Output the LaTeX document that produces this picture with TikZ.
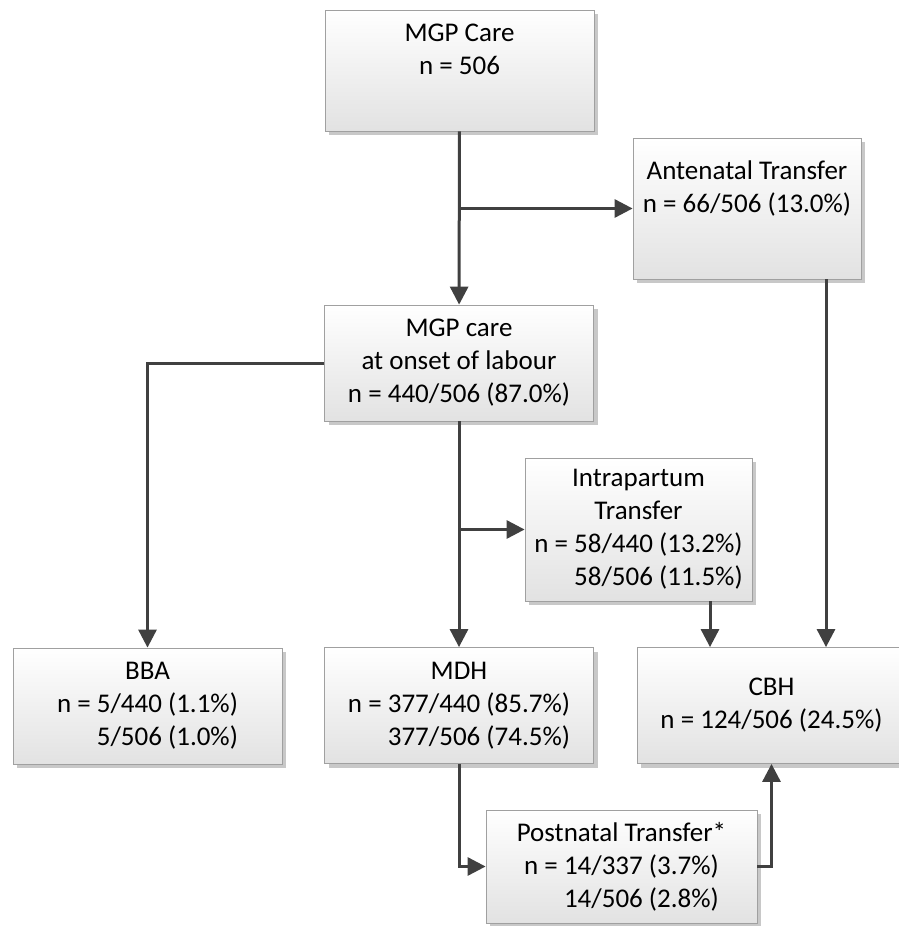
\documentclass[tikz,border=0pt]{standalone}
\usepackage{fontspec}
\setmainfont{Carlito}
\usetikzlibrary{arrows.meta,shadows}

\begin{document}
\begin{tikzpicture}[x=1pt,y=-1pt,
    box/.style={draw=boxline, line width=0.8pt, top color=white, bottom color=boxshade,
      drop shadow={shadow xshift=4pt, shadow yshift=-4pt, fill=shadowgray, opacity=1},
      minimum width=269pt, minimum height=116pt, align=center, inner sep=2pt,
      font=\fontsize{27}{33}\selectfont},
    arr/.style={draw=linegray, line width=3pt, -{Triangle[length=18pt,width=18pt]}}]
    % Define box and line colors
    \definecolor{boxline}{RGB}{160,160,160}
    \definecolor{boxshade}{RGB}{226,226,226}
    \definecolor{shadowgray}{RGB}{200,200,200}
    \definecolor{linegray}{RGB}{64,64,64}

    \useasboundingbox (0,0) rectangle (898,926);

    % Boxes
    \node[box, minimum height=121pt] (care) at (459.5,70.5) {MGP Care\\ n = 506\\ \strut};
    \node[box, minimum width=228pt, minimum height=141pt] (ante) at (747,208.5)
        {Antenatal Transfer\\ n = 66/506 (13.0\%)\\ \strut};
    \node[box] (onset) at (459,363) {MGP care\\ at onset of labour\\ n = 440/506 (87.0\%)};
    \node[box, minimum width=227pt, minimum height=143pt] (intra) at (638.5,529.5)
        {Intrapartum\\ Transfer\\ n = 58/440 (13.2\%)\\ \phantom{n = }58/506 (11.5\%)};
    \node[box] (bba) at (147.5,706) {BBA\\ n = 5/440 (1.1\%)\\ \phantom{n = }5/506 (1.0\%)};
    \node[box] (mdh) at (459,705.5) {MDH\\ n = 377/440 (85.7\%)\\ \phantom{n = }377/506 (74.5\%)};
    \node[box] (cbh) at (771.5,705.5) {CBH\\ n = 124/506 (24.5\%)};
    \node[box, minimum width=271pt, minimum height=113pt] (post) at (621.5,866.5)
        {Postnatal Transfer*\\ n = 14/337 (3.7\%)\\ \phantom{n = }14/506 (2.8\%)};

    % Connectors
    \draw[arr] (care) -- (onset);
    \draw[arr] (care.south |- ante.west) -- (ante.west);
    \draw[arr] (onset.west) -| (bba.north);
    \draw[arr] (onset) -- (mdh);
    \draw[arr] (onset.south |- intra.west) -- (intra.west);
    \draw[arr] ([xshift=71.5pt]intra.south) -- ([xshift=71.5pt]intra.south |- cbh.north);
    \draw[arr] ([xshift=79pt]ante.south) -- ([xshift=79pt]ante.south |- cbh.north);
    \draw[arr] (mdh.south) |- (post.west);
    \draw[arr] (post.east) -| (cbh.south);
\end{tikzpicture}
\end{document}
